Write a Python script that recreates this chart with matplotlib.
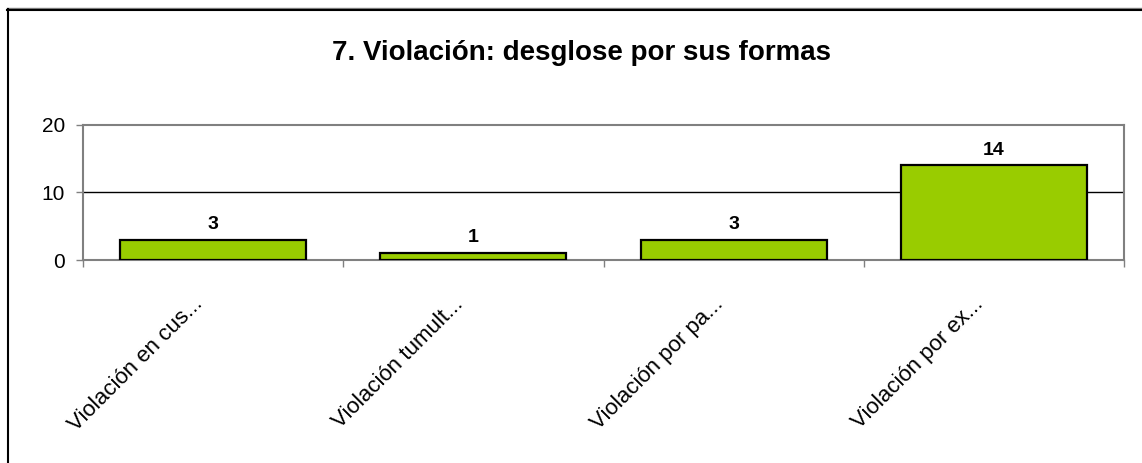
import matplotlib
matplotlib.use("Agg")
import matplotlib.pyplot as plt
from matplotlib.lines import Line2D
from matplotlib.transforms import ScaledTranslation

plt.rcParams['font.family'] = ['Liberation Sans', 'DejaVu Sans']

# datos del gráfico
categorias = ['Violación en cus...', 'Violación tumult...', 'Violación por pa...', 'Violación por ex...']
valores = [3, 1, 3, 14]
titulo = '7. Violación: desglose por sus formas'
yticks = [0, 10, 20]

W, H = 1142, 463
fig = plt.figure(figsize=(W / 100, H / 100), dpi=100)

# área del gráfico en píxeles: x 83..1124, y 125..260
ax = fig.add_axes([83 / W, 1 - 260 / H, (1124 - 83) / W, (260 - 125) / H])

x = list(range(len(categorias)))
ax.bar(x, valores, width=0.715, color='#99CC00', edgecolor='black', linewidth=1.6, zorder=3)

for xi, v in zip(x, valores):
    ax.annotate(str(v), (xi, v), xytext=(0, 5), textcoords='offset points',
                ha='center', va='bottom', fontsize=14, fontweight='bold')

ax.set_xlim(-0.5, len(categorias) - 0.5)
ax.set_ylim(0, 20)
ax.set_yticks(yticks)
ax.set_yticklabels([str(t) for t in yticks], fontsize=15)
ax.tick_params(axis='y', length=5, width=1, color='#808080', pad=8)

# etiquetas de categoría centradas, marcas en los límites
ax.set_xticks(x)
ax.set_xticklabels(categorias, rotation=45, ha='right', va='top', rotation_mode='anchor', fontsize=16)
ax.tick_params(axis='x', which='major', length=0, pad=24)
ax.set_xticks([i - 0.5 for i in range(len(categorias) + 1)], minor=True)
ax.tick_params(axis='x', which='minor', length=5, width=1, color='#808080')
desplaza = ScaledTranslation(-0.21, 0, fig.dpi_scale_trans)
for lbl in ax.get_xticklabels():
    lbl.set_transform(lbl.get_transform() + desplaza)

ax.axhline(10, color='black', linewidth=1, zorder=1)
for s in ax.spines.values():
    s.set_color('#808080')
    s.set_linewidth(1.5)

fig.text(581 / W, 1 - 53 / H, titulo, ha='center', va='center', fontsize=20, fontweight='bold')

# marco exterior
fig.add_artist(Line2D([7 / W, 1], [1 - 8 / H, 1 - 8 / H], color='#808080', linewidth=1))
fig.add_artist(Line2D([7 / W, 1], [1 - 9.5 / H, 1 - 9.5 / H], color='black', linewidth=1.5))
fig.add_artist(Line2D([7.5 / W, 7.5 / W], [0, 1 - 9 / H], color='black', linewidth=1.5))

fig.savefig('out.png', dpi=100)
